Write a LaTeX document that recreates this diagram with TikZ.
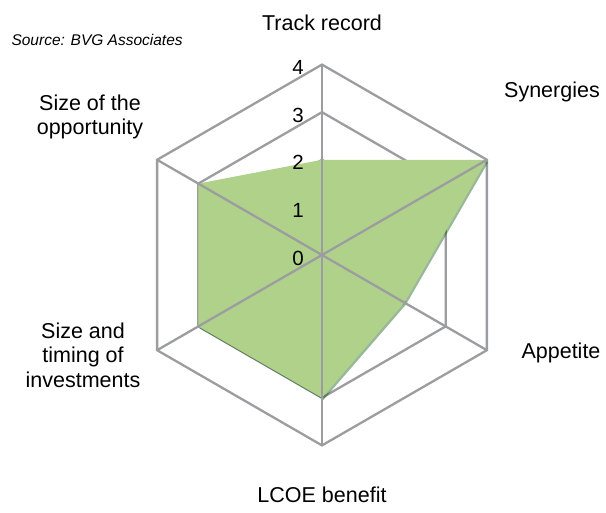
\documentclass[tikz,border=0pt]{standalone}
\usepackage{fontspec}
\setmainfont{Liberation Sans}
\usetikzlibrary{shadows}

\definecolor{gridgrey}{RGB}{156,157,160}
\definecolor{areagreen}{RGB}{176,209,137}

\begin{document}
\begin{tikzpicture}[x=1pt, y=1pt,
    ring/.style={draw=gridgrey, line width=2.3pt, line join=miter},
    spoke/.style={draw=gridgrey, line width=2.3pt},
    area/.style={fill=areagreen, drop shadow={opacity=0.4, fill=black!70!green, shadow xshift=1.5pt, shadow yshift=-2pt}},
    axislabel/.style={font=\fontsize{21.5}{24.5}\selectfont, align=center},
    ticklabel/.style={font=\fontsize{20.5}{24}\selectfont}
]
    \useasboundingbox (0,0) rectangle (606,513);

    % axis names
    \node[axislabel] (track) at (322,490) {Track record};
    \node[axislabel] (syn) at (552,421) {Synergies};
    \node[axislabel] (app) at (561,160) {Appetite};
    \node[axislabel] (lcoe) at (322,18) {LCOE benefit};
    \node[axislabel] (timing) at (83,158) {Size and\\timing of\\investments};
    \node[axislabel] (opp) at (90,396) {Size of the\\opportunity};
    \node[font=\fontsize{15.5}{18}\selectfont\itshape, anchor=west] (src) at (8,473) {Source: BVG Associates};

    \begin{scope}[shift={(322,258)}]
        % rings
        \foreach \r in {1,2,3,4}
            \draw[ring] (90:47.6*\r) -- (30:47.6*\r) -- (-30:47.6*\r) -- (-90:47.6*\r)
                -- (-150:47.6*\r) -- (150:47.6*\r) -- cycle;

        % scores
        \fill[area] (90:95.2) -- (30:190.4) -- (-30:95.2) -- (-90:142.8)
            -- (-150:142.8) -- (150:142.8) -- cycle;

        % spokes
        \coordinate (O) at (0,0);
        \foreach \a/\n in {90/tr, 30/sy, -30/ap, -90/lc, -150/st, 150/so} {
            \coordinate (\n) at (\a:190.4);
            \draw[spoke] (O) -- (\n);
        }

        % scale
        \foreach \k in {0,1,2,3,4}
            \node[ticklabel] (t\k) at (-24,47.6*\k-3) {\k};
    \end{scope}
\end{tikzpicture}
\end{document}
